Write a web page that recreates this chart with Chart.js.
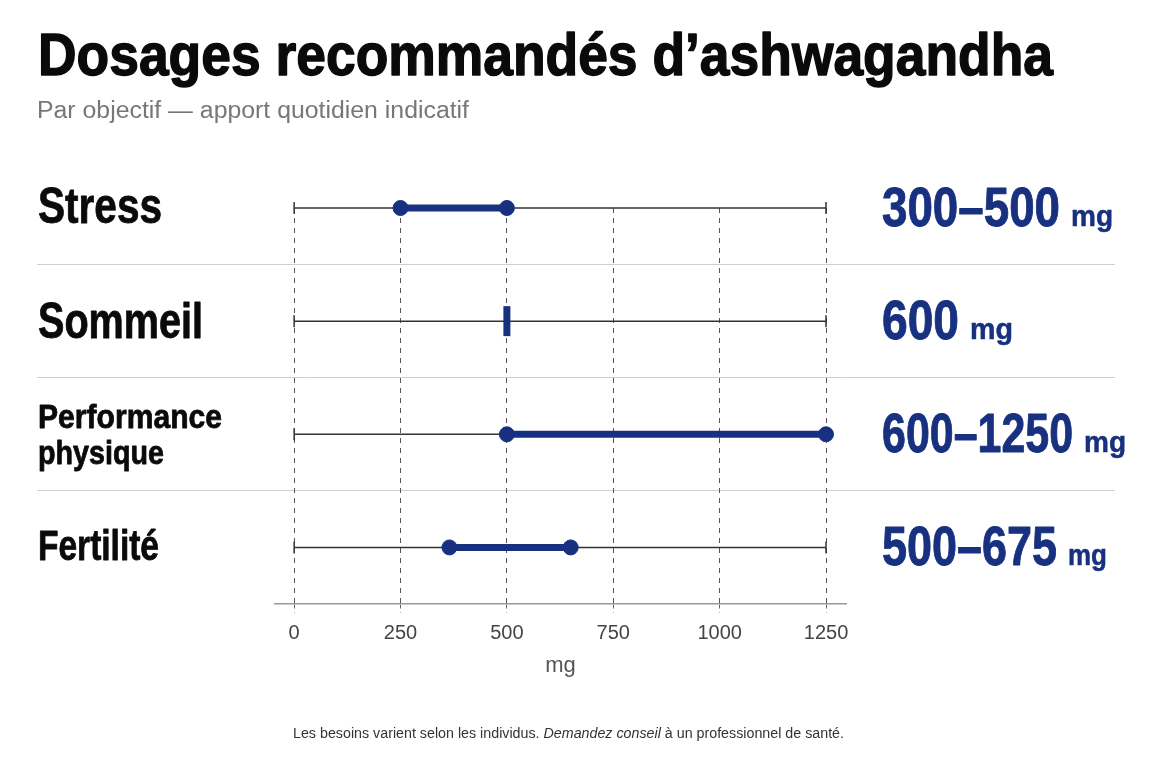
<!DOCTYPE html>
<html lang="fr">
<head>
<meta charset="utf-8">
<title>Dosages recommandés d'ashwagandha</title>
<script src="https://cdn.jsdelivr.net/npm/chart.js@4"></script>
<style>
  html, body { margin: 0; padding: 0; background: #fff; }
  #wrap { position: relative; width: 1152px; height: 768px; }
</style>
</head>
<body>
<div id="wrap"><canvas id="chart" width="1152" height="768"></canvas></div>
<script>
// Data
const titleText = 'Dosages recommandés d\u2019ashwagandha';
const subtitleText = 'Par objectif \u2014 apport quotidien indicatif';
const categories = [['Stress'], ['Sommeil'], ['Performance', 'physique'], ['Fertilité']];
const rangeLow = [250, 500, 500, 365];
const rangeHigh = [500, 500, 1250, 650];
const doseLabels = ['300\u2013500', '600', '600\u20131250', '500\u2013675'];
const doseUnit = 'mg';
const tickValues = [0, 250, 500, 750, 1000, 1250];
const trackStart = 0;
const trackEnd = 1250;
const axisTitle = 'mg';
const footnote = [
  {text: 'Les besoins varient selon les individus. ', italic: false},
  {text: 'Demandez conseil', italic: true},
  {text: ' \u00e0 un professionnel de sant\u00e9.', italic: false}
];

const NAVY = '#17307f';
const TRACK = '#333333';
const SANS = '"Liberation Sans", Arial, sans-serif';

// draw text squeezed horizontally to a given width (condensed look)
function fitText(ctx, text, x, y, font, width, heavy) {
  ctx.save();
  ctx.font = font;
  const w = ctx.measureText(text).width;
  ctx.translate(x, y);
  ctx.scale(width / w, 1);
  if (heavy) {
    ctx.lineJoin = 'round';
    ctx.lineWidth = heavy;
    ctx.strokeStyle = ctx.fillStyle;
    ctx.strokeText(text, 0, 0);
  }
  ctx.fillText(text, 0, 0);
  ctx.restore();
  return width;
}

// row label styles
const labelStyles = [
  {size: 50, dy: [15], w: [124]},
  {size: 50, dy: [17], w: [165]},
  {size: 34, dy: [-6, 30], w: [184, 126]},
  {size: 42, dy: [13], w: [121]}
];
const doseStyles = [
  {w: 178, unitW: 42},
  {w: 77, unitW: 43},
  {w: 191, unitW: 42},
  {w: 175, unitW: 39}
];

const decorPlugin = {
  id: 'decor',
  beforeDraw(chart) {
    const {ctx} = chart;
    const yScale = chart.scales.y;
    ctx.save();
    ctx.strokeStyle = '#cfcfcf';
    ctx.lineWidth = 1;
    for (let i = 0; i < categories.length - 1; i++) {
      const y = Math.round((yScale.getPixelForValue(i) + yScale.getPixelForValue(i + 1)) / 2) - 0.5;
      ctx.beginPath();
      ctx.moveTo(37, y);
      ctx.lineTo(1115, y);
      ctx.stroke();
    }
    ctx.restore();
  },
  afterDraw(chart) {
    const {ctx} = chart;
    const yScale = chart.scales.y;
    ctx.save();
    ctx.textBaseline = 'alphabetic';
    ctx.textAlign = 'left';

    // title + subtitle
    ctx.fillStyle = '#0a0a0a';
    fitText(ctx, titleText, 38, 75, `bold 59px ${SANS}`, 1015, 1.4);
    ctx.fillStyle = '#777777';
    fitText(ctx, subtitleText, 37, 118, `23px ${SANS}`, 432);

    categories.forEach((lines, i) => {
      const cy = yScale.getPixelForValue(i);
      const st = labelStyles[i];
      ctx.fillStyle = '#0a0a0a';
      lines.forEach((line, j) => {
        fitText(ctx, line, 38, cy + st.dy[j], `bold ${st.size}px ${SANS}`, st.w[j], 0.8);
      });

      const ds = doseStyles[i];
      ctx.fillStyle = NAVY;
      fitText(ctx, doseLabels[i], 882, cy + 18, `bold 56px ${SANS}`, ds.w, 0.9);
      fitText(ctx, doseUnit, 882 + ds.w + 11, cy + 18, `bold 30px ${SANS}`, ds.unitW, 0.5);
    });

    // footnote, scaled as a whole to its width
    ctx.fillStyle = '#333333';
    const fonts = footnote.map(p => `${p.italic ? 'italic ' : ''}14px ${SANS}`);
    const widths = footnote.map((p, k) => { ctx.font = fonts[k]; return ctx.measureText(p.text).width; });
    const total = widths.reduce((a, b) => a + b, 0);
    const k = 551 / total;
    let x = 293;
    footnote.forEach((p, j) => {
      x += fitText(ctx, p.text, x, 738, fonts[j], widths[j] * k);
    });
    ctx.restore();
  }
};

// one thin track per row, with end caps
const trackSets = categories.map((c, i) => ({
  data: [{x: trackStart, y: i}, {x: trackEnd, y: i}],
  showLine: true,
  borderColor: TRACK,
  borderWidth: 1.5,
  pointStyle: 'line',
  pointRotation: 90,
  pointRadius: 6,
  pointBorderWidth: 1.5,
  pointBorderColor: TRACK,
  pointBackgroundColor: TRACK,
  clip: false
}));

// the recommended range per row
const rangeSets = categories.map((c, i) => {
  const single = rangeLow[i] === rangeHigh[i];
  return {
    data: single ? [{x: rangeLow[i], y: i}] : [{x: rangeLow[i], y: i}, {x: rangeHigh[i], y: i}],
    showLine: !single,
    borderColor: NAVY,
    borderWidth: 7,
    borderCapStyle: 'round',
    pointStyle: single ? 'line' : 'circle',
    pointRotation: single ? 90 : 0,
    pointRadius: single ? 15 : 7.5,
    pointBorderWidth: single ? 7 : 1,
    pointBorderColor: NAVY,
    pointBackgroundColor: NAVY,
    clip: false
  };
});

new Chart(document.getElementById('chart'), {
  type: 'scatter',
  data: {datasets: [...rangeSets, ...trackSets]},
  options: {
    responsive: false,
    animation: false,
    events: [],
    layout: {padding: {left: 275, right: 306, top: 208, bottom: 89}},
    plugins: {legend: {display: false}, tooltip: {enabled: false}},
    scales: {
      x: {
        type: 'linear',
        min: -45,
        max: 1297,
        afterBuildTicks(scale) {
          scale.ticks = tickValues.map(v => ({value: v}));
        },
        afterFit(scale) {
          scale.height = 75;
        },
        grid: {
          color: '#555555',
          lineWidth: 1,
          tickLength: 9,
          tickColor: '#666666',
          tickBorderDash: [4, 4]
        },
        border: {display: true, color: '#9a9a9a', width: 1.5, dash: [5, 5]},
        ticks: {
          padding: 8,
          color: '#444444',
          font: {family: SANS, size: 20},
          callback: v => String(v)
        },
        title: {
          display: true,
          text: axisTitle,
          color: '#555555',
          font: {family: SANS, size: 22},
          padding: {top: 8, bottom: 0}
        }
      },
      y: {
        type: 'linear',
        display: false,
        reverse: true,
        min: 0,
        max: 3.5
      }
    }
  },
  plugins: [decorPlugin]
});
</script>
</body>
</html>
